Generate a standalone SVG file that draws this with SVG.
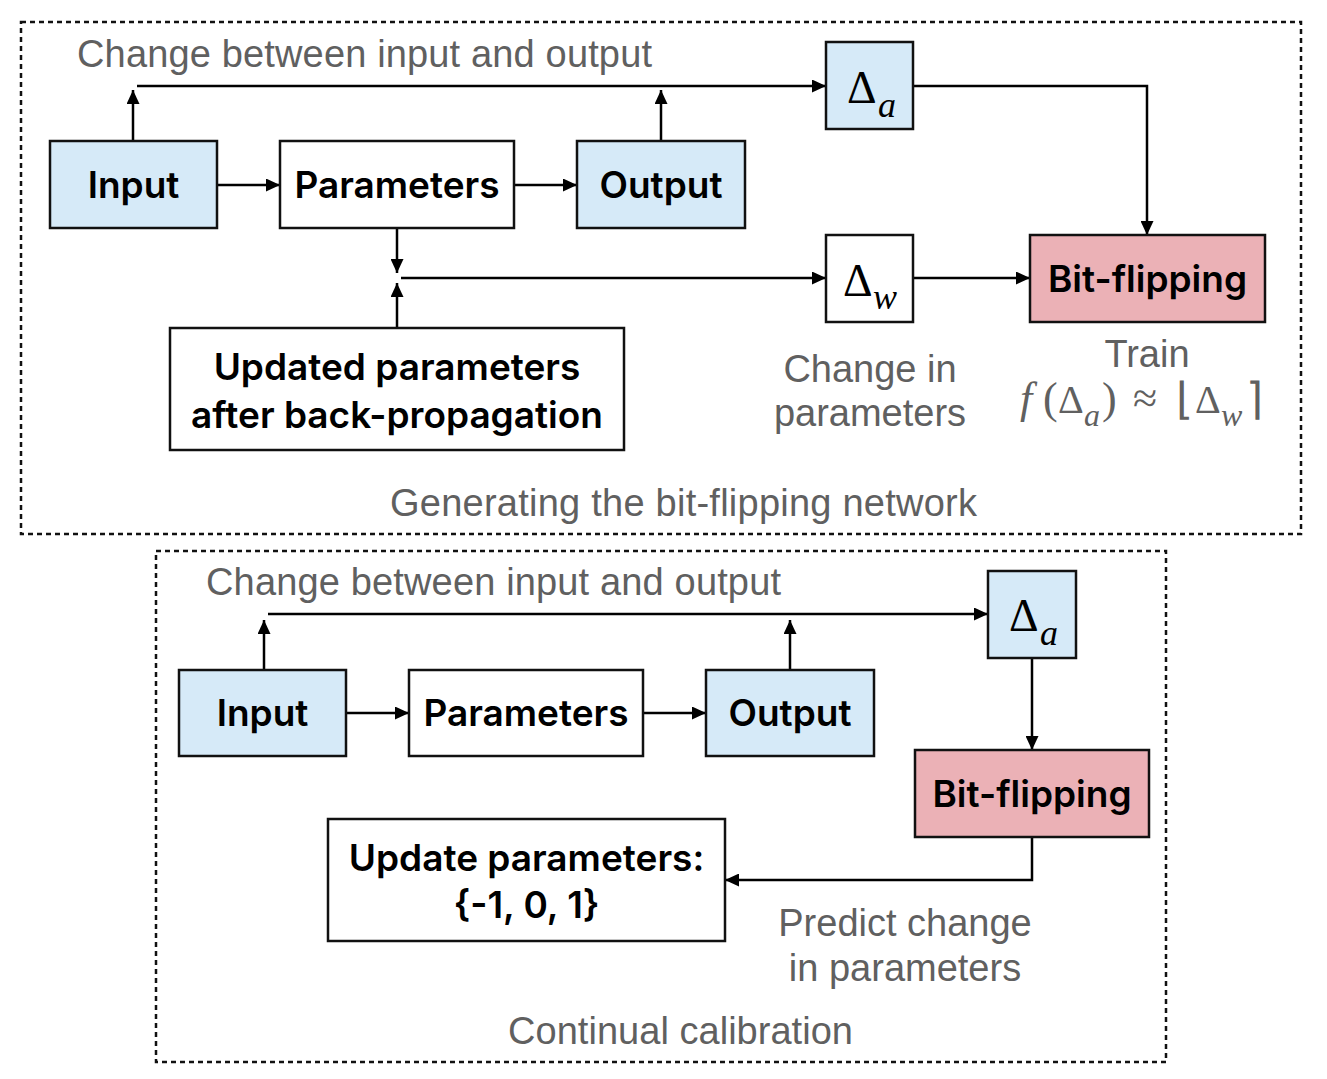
<svg xmlns="http://www.w3.org/2000/svg" width="1327" height="1079" viewBox="0 0 1327 1079">
<style>
.frame{fill:none;stroke:#111;stroke-width:2.5;stroke-dasharray:5 4}
.box{stroke:#111;stroke-width:2.5}
.blue{fill:#d6eaf8}
.white{fill:#fff}
.pink{fill:#ebb1b6}
.lbl{font-family:Inter,"Liberation Sans",sans-serif;font-weight:600;font-size:37px;fill:#000;text-anchor:middle}
.gray{font-family:"Liberation Sans",Arial,sans-serif;font-size:38px;fill:#606060}
.grayc{font-family:"Liberation Sans",Arial,sans-serif;font-size:38px;fill:#606060;text-anchor:middle}
.math{font-family:"Liberation Serif","Times New Roman",serif;font-size:46px;fill:#000}
.sub{font-style:italic;font-size:36px}
.fm{font-family:"Liberation Serif","Times New Roman",serif;font-size:44px;fill:#606060}
.it{font-style:italic}
.conn{fill:none;stroke:#000;stroke-width:2.5}
</style>
<defs>
<marker id="arr" markerUnits="userSpaceOnUse" markerWidth="14" markerHeight="13" refX="14" refY="6.5" orient="auto">
<path d="M0,0 L14,6.5 L0,13 z" fill="#000"/>
</marker>
</defs>
<rect width="1327" height="1079" fill="#fff"/>
<g id="frame-top"><rect class="frame" x="21" y="22" width="1280" height="512"/></g>
<g id="frame-bottom"><rect class="frame" x="156" y="551" width="1010" height="511"/></g>

<g id="connectors">
<path class="conn" d="M133,141 V90" marker-end="url(#arr)"/>
<path class="conn" d="M137,86 H826" marker-end="url(#arr)"/>
<path class="conn" d="M661,141 V90" marker-end="url(#arr)"/>
<path class="conn" d="M217,185 H280" marker-end="url(#arr)"/>
<path class="conn" d="M514,185 H577" marker-end="url(#arr)"/>
<path class="conn" d="M913,86 H1147 V235" marker-end="url(#arr)"/>
<path class="conn" d="M397,228 V273" marker-end="url(#arr)"/>
<path class="conn" d="M397,328 V283" marker-end="url(#arr)"/>
<path class="conn" d="M401,278 H826" marker-end="url(#arr)"/>
<path class="conn" d="M913,278 H1030" marker-end="url(#arr)"/>

<path class="conn" d="M264,670 V620" marker-end="url(#arr)"/>
<path class="conn" d="M268,614 H988" marker-end="url(#arr)"/>
<path class="conn" d="M790,670 V620" marker-end="url(#arr)"/>
<path class="conn" d="M346,713 H409" marker-end="url(#arr)"/>
<path class="conn" d="M643,713 H706" marker-end="url(#arr)"/>
<path class="conn" d="M1032,658 V750" marker-end="url(#arr)"/>
<path class="conn" d="M1032,837 V880 H725" marker-end="url(#arr)"/>
</g>

<g id="input1"><rect class="box blue" x="50" y="141" width="167" height="87"/><text class="lbl" x="133.5" y="198">Input</text></g>
<g id="params1"><rect class="box white" x="280" y="141" width="234" height="87"/><text class="lbl" x="397" y="198">Parameters</text></g>
<g id="output1"><rect class="box blue" x="577" y="141" width="168" height="87"/><text class="lbl" x="661" y="198">Output</text></g>
<g id="da1"><rect class="box blue" x="826" y="42" width="87" height="87"/><text class="math" x="847" y="103">Δ<tspan class="sub" x="878" y="117">a</tspan></text></g>
<g id="dw1"><rect class="box white" x="826" y="235" width="87" height="87"/><text class="math" x="843" y="296">Δ<tspan class="sub" x="873" y="309">w</tspan></text></g>
<g id="bitflip1"><rect class="box pink" x="1030" y="235" width="235" height="87"/><text class="lbl" x="1147.5" y="292">Bit-flipping</text></g>
<g id="updated"><rect class="box white" x="170" y="328" width="454" height="122"/><text class="lbl" x="397" y="380">Updated parameters</text><text class="lbl" x="397" y="428">after back-propagation</text></g>

<g id="labels-top">
<text class="gray" x="77" y="67" textLength="575">Change between input and output</text>
<text class="grayc" x="870" y="382">Change in</text>
<text class="grayc" x="870" y="426">parameters</text>
<text class="grayc" x="1147" y="367" font-size="35">Train</text>
<text class="fm"><tspan class="it" x="1020" y="413">f</tspan><tspan x="1043" y="413">(</tspan><tspan x="1058" y="413" font-size="40">Δ</tspan><tspan class="it" x="1084" y="426" font-size="32">a</tspan><tspan x="1102" y="413">)</tspan><tspan x="1133" y="413">≈</tspan><tspan x="1176" y="414">⌊</tspan><tspan x="1195" y="413" font-size="40">Δ</tspan><tspan class="it" x="1221" y="426" font-size="32">w</tspan><tspan x="1246" y="414">⌉</tspan></text>
<text class="gray" x="390" y="516" textLength="587">Generating the bit-flipping network</text>
</g>

<g id="input2"><rect class="box blue" x="179" y="670" width="167" height="86"/><text class="lbl" x="262.5" y="726">Input</text></g>
<g id="params2"><rect class="box white" x="409" y="670" width="234" height="86"/><text class="lbl" x="526" y="726">Parameters</text></g>
<g id="output2"><rect class="box blue" x="706" y="670" width="168" height="86"/><text class="lbl" x="790" y="726">Output</text></g>
<g id="da2"><rect class="box blue" x="988" y="571" width="88" height="87"/><text class="math" x="1009" y="631">Δ<tspan class="sub" x="1040" y="645">a</tspan></text></g>
<g id="bitflip2"><rect class="box pink" x="915" y="750" width="234" height="87"/><text class="lbl" x="1032" y="807">Bit-flipping</text></g>
<g id="update2"><rect class="box white" x="328" y="819" width="397" height="122"/><text class="lbl" x="526.5" y="871">Update parameters:</text><text class="lbl" x="526.5" y="918">{-1, 0, 1}</text></g>

<g id="labels-bottom">
<text class="gray" x="206" y="595" textLength="575">Change between input and output</text>
<text class="grayc" x="905" y="936">Predict change</text>
<text class="grayc" x="905" y="981">in parameters</text>
<text class="gray" x="508" y="1044" textLength="345">Continual calibration</text>
</g>
</svg>
